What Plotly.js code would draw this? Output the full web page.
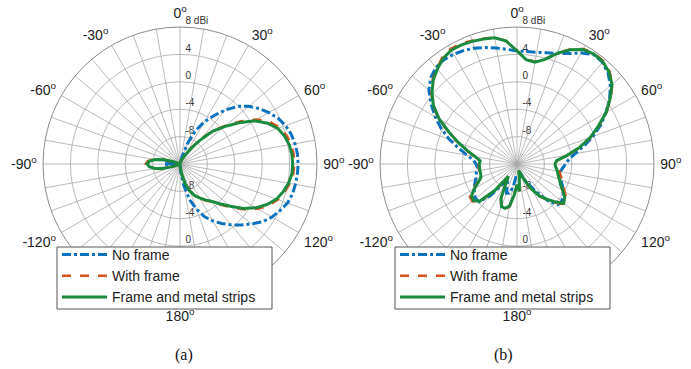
<!DOCTYPE html>
<html>
<head>
<meta charset="utf-8">
<script src="https://cdn.plot.ly/plotly-3.0.1.min.js"></script>
<style>html,body{margin:0;padding:0;background:#fff;}#chart{width:691px;height:369px;}</style>
</head>
<body>
<div id="chart"></div>
<script>
// Angles (degrees), 0 at top, clockwise
const theta = [-180,-175,-170,-165,-160,-155,-150,-145,-140,-135,-130,-125,-120,-115,-110,-105,-100,-95,-90,-85,-80,-75,-70,-65,-60,-55,-50,-45,-40,-35,-30,-25,-20,-15,-10,-5,0,5,10,15,20,25,30,35,40,45,50,55,60,65,70,75,80,85,90,95,100,105,110,115,120,125,130,135,140,145,150,155,160,165,170,175,180];

// (a) gain in dBi
const noFrameA = [-12,-12,-12,-12,-12,-12,-12,-12,-12,-12,-12,-12,-12,-12,-12,-12,-12,-10.6,-9.6,-10.6,-12,-12,-12,-12,-12,-12,-12,-12,-12,-12,-12,-12,-12,-12,-12,-12,-12,-12,-12,-11,-8.8,-6.6,-4.9,-3.4,-1.7,-0.1,1.1,2.1,3.0,3.8,4.4,4.8,5.05,5.2,5.25,5.2,5.1,5.0,4.7,4.1,3.5,2.7,1.6,0.6,-0.4,-1.4,-2.4,-3.5,-5.0,-6.6,-8.8,-10.8,-12];
const withFrameA = [-12,-12,-12,-12,-12,-12,-12,-12,-12,-12,-12,-12,-12,-11.8,-10.9,-9.2,-8.1,-7.3,-7.0,-7.3,-8.1,-9.5,-10.9,-11.8,-12,-12,-12,-12,-12,-12,-12,-12,-12,-12,-12,-12,-12,-12,-12,-11.8,-11.5,-11.1,-10.4,-9.1,-7.3,-5.0,-3.3,-1.1,1.0,2.5,3.5,4.1,4.5,4.65,4.7,4.6,4.3,3.8,3.2,2.3,1.1,-0.4,-2.1,-3.6,-4.8,-5.5,-6.2,-6.9,-7.8,-8.9,-10.4,-11.6,-12];
const stripsA = [-12,-12,-12,-12,-12,-12,-12,-12,-12,-12,-12,-12,-12,-11.8,-11.0,-9.4,-8.3,-7.5,-7.2,-7.5,-8.3,-9.6,-11.0,-11.8,-12,-12,-12,-12,-12,-12,-12,-12,-12,-12,-12,-12,-12,-12,-12,-11.8,-11.5,-11.1,-10.5,-9.2,-7.5,-5.2,-3.5,-1.5,0.6,2.1,3.2,3.8,4.2,4.4,4.45,4.4,4.1,3.6,3.0,2.0,0.8,-0.7,-2.4,-3.8,-4.9,-5.6,-6.3,-6.9,-7.8,-8.9,-10.4,-11.6,-12];

// (b) gain in dBi
const noFrameB = [-10,-10,-8.5,-7.6,-7.5,-8.5,-9.5,-8.5,-6.0,-4.2,-4.1,-4.4,-4.8,-5.2,-5.6,-5.8,-6.0,-6.2,-6.0,-5.6,-4.6,-3.2,-1.5,0.2,1.8,3.3,4.8,5.8,6.4,6.6,6.5,6.3,6.0,5.6,5.2,4.8,4.5,4.5,4.55,4.8,5.2,5.8,6.7,7.5,7.4,6.8,5.8,4.5,3.0,1.5,-0.2,-1.9,-3.4,-4.4,-4.9,-5.3,-5.6,-5.5,-5.2,-4.7,-4.2,-3.8,-3.5,-3.6,-5.0,-7.0,-8.5,-9.5,-10.5,-10.5,-10,-10,-10];
const withFrameB = [-9.0,-7.5,-5.7,-5.1,-5.2,-6.4,-8.7,-9.7,-6.9,-4.1,-3.5,-3.6,-4.6,-5.7,-6.3,-6.4,-6.4,-6.4,-6.4,-6.5,-5.7,-4.4,-2.8,-1.0,1.2,3.0,4.3,5.4,6.2,7.0,7.4,7.4,7.15,6.95,6.75,6.05,4.55,3.35,3.15,3.85,5.25,6.5,7.4,7.7,7.6,7.1,6.2,4.7,3.1,1.2,-0.5,-2.4,-4.4,-6.1,-6.3,-6.1,-5.7,-5.4,-5.0,-4.6,-4.0,-3.2,-2.9,-4.0,-5.2,-6.2,-7.7,-9.2,-10.4,-11.0,-10,-8.0,-9.0];
const stripsB = [-9.0,-7.5,-5.8,-5.3,-5.4,-6.5,-8.8,-9.8,-7.0,-4.3,-3.7,-3.9,-4.8,-5.8,-6.4,-6.5,-6.5,-6.5,-6.5,-6.6,-5.8,-4.5,-2.9,-1.1,1.1,2.9,4.2,5.3,6.1,6.8,7.2,7.2,7.05,6.9,6.7,6.0,4.5,3.3,3.1,3.8,5.2,6.4,7.3,7.6,7.5,7.0,6.1,4.6,3.0,1.1,-0.6,-2.5,-4.5,-6.2,-6.45,-6.3,-6.0,-5.8,-5.4,-5.0,-4.3,-3.5,-3.1,-4.2,-5.3,-6.3,-7.8,-9.3,-10.5,-11.0,-10,-8.0,-9.0];

const seriesNames = ['No frame', 'With frame', 'Frame and metal strips'];
const angGridVals = [0,10,20,30,40,50,60,70,80,90,100,110,120,130,140,150,160,170,180,190,200,210,220,230,240,250,260,270,280,290,300,310,320,330,340,350];
const angLabelVals = [0,30,60,90,120,180,240,270,300,330];
const angLabelText = ['0','30','60','90','120','180','-120','-90','-60','-30'];
const rRange = [-12, 8];
const rTickVals = [-8,-4,0,4,8];
const rTickTextTop = ['-8','-4','0','4','8 dBi'];
const rTickTextBottom = ['-8','-4','0','',''];

const colors = ['#0b72bd', '#d9531e', '#1a8a3e'];
const dashes = ['dashdot', 'dash', 'solid'];
const widths = [3, 2.5, 3];
const FONT = 'Liberation Sans, Arial, Helvetica, sans-serif';

// geometry (pixels) of each polar plot
const W = 691, H = 369;
const R = 137, cy = 164, cxA = 180, cxB = 517;
const LABEL_R = R + 12;          // larger overlay carrying radial labels
const LABEL_LIFT = 6;            // labels sit ~6px above each ring
const dbPerPx = (rRange[1] - rRange[0]) / R;
const labelRange = [rRange[0], rRange[0] + LABEL_R * dbPerPx];
const liftDb = LABEL_LIFT * dbPerPx;

// legend frames (pixels)
const LEG_TOP = 247, LEG_BOTTOM = 309, LEG_W = 215;
const legLeftA = 57, legLeftB = 395;

function dom(cx, r) {
  return {x: [(cx - r) / W, (cx + r) / W], y: [1 - (cy + r) / H, 1 - (cy - r) / H]};
}

const angText = angGridVals.map(v => {
  const i = angLabelVals.indexOf(v);
  return i >= 0 ? angLabelText[i] + '<sup>o</sup>' : '';
});

function mainPolar(cx) {
  return {
    domain: dom(cx, R),
    bgcolor: 'rgba(0,0,0,0)',
    angularaxis: {
      rotation: 90, direction: 'clockwise',
      tickmode: 'array', tickvals: angGridVals, ticktext: angText,
      showgrid: true, gridcolor: '#a8a8a8', gridwidth: 0.8,
      showline: true, linecolor: '#8c8c8c', linewidth: 1,
      ticks: 'outside', ticklen: 3, tickcolor: 'rgba(0,0,0,0)',
      tickfont: {family: FONT, size: 14, color: '#222'}
    },
    radialaxis: {
      range: rRange, angle: 90,
      tickmode: 'array', tickvals: rTickVals,
      showgrid: true, gridcolor: '#a8a8a8', gridwidth: 0.8,
      showline: false, ticks: '', showticklabels: false
    }
  };
}
function labelPolar(cx, up) {
  return {
    domain: dom(cx, LABEL_R),
    bgcolor: 'rgba(0,0,0,0)',
    angularaxis: {rotation: 90, direction: 'clockwise', visible: false, showgrid: false, showline: false, showticklabels: false},
    radialaxis: {
      range: labelRange, angle: up ? 90 : 270, side: up ? 'clockwise' : 'counterclockwise',
      tickmode: 'array',
      tickvals: rTickVals.map(v => up ? v + liftDb : v - liftDb),
      ticktext: up ? rTickTextTop : rTickTextBottom,
      showgrid: false, showline: false,
      ticks: 'outside', ticklen: 3, tickcolor: 'rgba(0,0,0,0)',
      tickangle: up ? 90 : -90,
      tickfont: {family: FONT, size: 10, color: '#333'}
    }
  };
}

const dataA = [noFrameA, withFrameA, stripsA];
const dataB = [noFrameB, withFrameB, stripsB];
const traces = [];
['polar', 'polar2', 'polar3', 'polar4'].forEach(sp => {
  traces.push({type: 'scatterpolar', r: [], theta: [], subplot: sp, showlegend: false, hoverinfo: 'skip'});
});
[[dataA, 'polar5', 'legend'], [dataB, 'polar6', 'legend2']].forEach(([set, sp, lg]) => {
  set.forEach((vals, i) => {
    traces.push({
      type: 'scatterpolar', mode: 'lines', r: vals, theta: theta, subplot: sp,
      name: seriesNames[i], legend: lg,
      line: {color: colors[i], dash: dashes[i], width: widths[i]}
    });
  });
});

const legendStyle = {
  yanchor: 'top', xanchor: 'left', y: 1 - (LEG_TOP - 8) / H,
  bgcolor: 'rgba(0,0,0,0)', borderwidth: 0,
  font: {family: FONT, size: 14, color: '#222'}, itemwidth: 45, tracegroupgap: 0
};
function legendFrame(left) {
  return {
    type: 'rect', xref: 'paper', yref: 'paper', layer: 'above',
    x0: left / W, x1: (left + LEG_W) / W, y0: 1 - LEG_BOTTOM / H, y1: 1 - LEG_TOP / H,
    fillcolor: '#fff', line: {color: '#555', width: 1}
  };
}

const layout = {
  width: W, height: H,
  margin: {l: 0, r: 0, t: 0, b: 0},
  paper_bgcolor: '#fff',
  showlegend: true,
  polar: labelPolar(cxA, true),
  polar2: labelPolar(cxA, false),
  polar3: labelPolar(cxB, true),
  polar4: labelPolar(cxB, false),
  polar5: mainPolar(cxA),
  polar6: mainPolar(cxB),
  legend: Object.assign({x: legLeftA / W}, legendStyle),
  legend2: Object.assign({x: legLeftB / W}, legendStyle),
  shapes: [legendFrame(legLeftA), legendFrame(legLeftB)],
  annotations: [
    {text: '(a)', x: 0.25, y: 1 - 355 / H, yanchor: 'middle', xref: 'paper', yref: 'paper', showarrow: false, font: {family: 'Liberation Serif, Times New Roman, serif', size: 16, color: '#111'}},
    {text: '(b)', x: 0.745, y: 1 - 355 / H, yanchor: 'middle', xref: 'paper', yref: 'paper', showarrow: false, font: {family: 'Liberation Serif, Times New Roman, serif', size: 16, color: '#111'}}
  ]
};

Plotly.newPlot('chart', traces, layout, {displayModeBar: false, staticPlot: true});
</script>
</body>
</html>
